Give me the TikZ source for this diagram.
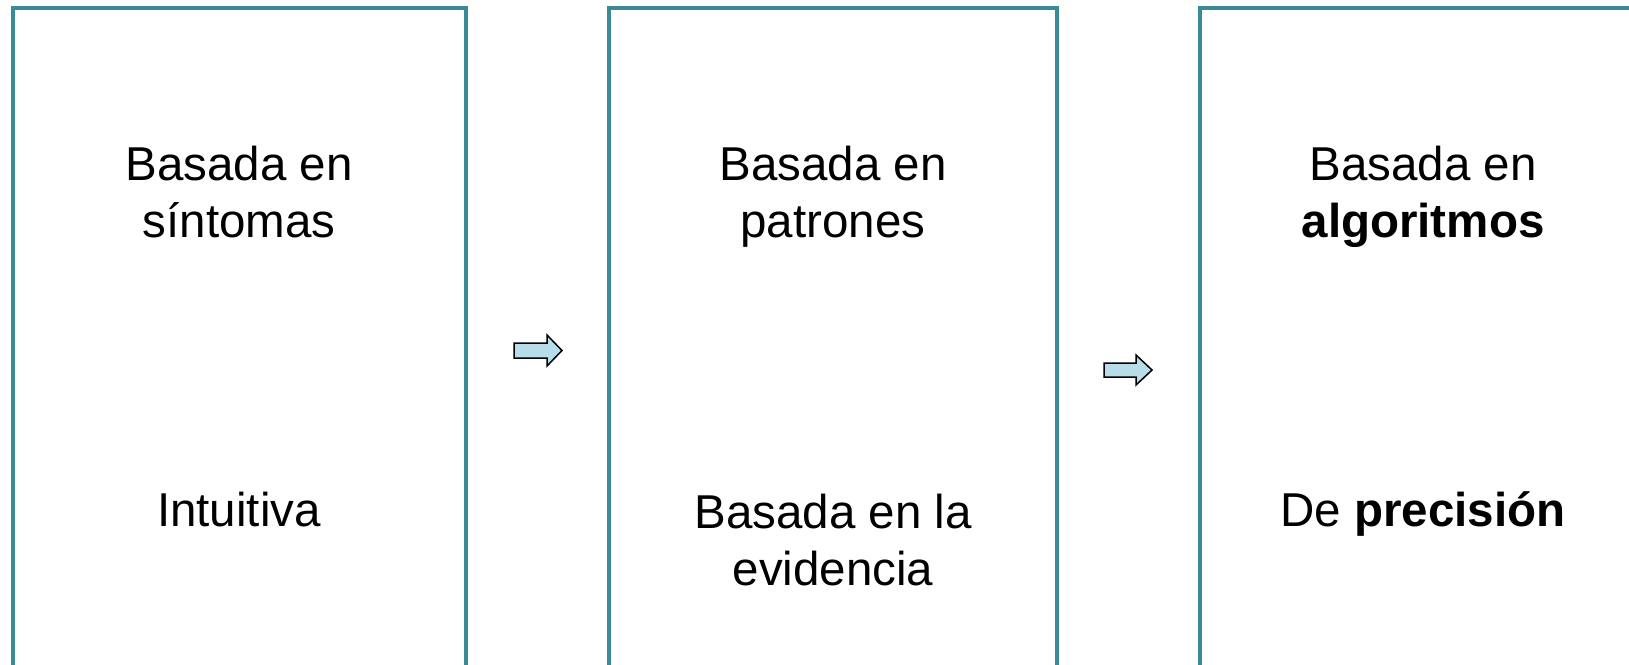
\documentclass[tikz,border=0pt]{standalone}
\usepackage{fontspec}
\setmainfont{Liberation Sans}
\definecolor{boxteal}{RGB}{58,139,148}
\definecolor{arrowfill}{RGB}{183,222,232}
\begin{document}
\begin{tikzpicture}[x=1pt,y=-1pt,
  stage/.style={draw=boxteal, line width=4pt, fill=none, anchor=north west, inner sep=0pt, outer sep=0pt},
  lbl/.style={font=\fontsize{47.5}{57}\selectfont, align=center, anchor=base, inner sep=0pt},
  blockarrow/.style={draw=black, line width=1.5pt, fill=arrowfill, line join=miter}]
\useasboundingbox (0,0) rectangle (1629,664);
\clip (0,0) rectangle (1629,664);
\node[stage, minimum width=453.5pt, minimum height=700pt] (b1) at (12.5,7.5) {};
\node[stage, minimum width=448pt, minimum height=700pt] (b2) at (609,7.5) {};
\node[stage, minimum width=500pt, minimum height=700pt] (b3) at (1200,7.5) {};
\node[lbl] (t1a) at (239,237) {Basada en\\síntomas};
\node[lbl] (t1b) at (239,526) {Intuitiva};
\node[lbl] (t2a) at (833,237) {Basada en\\patrones};
\node[lbl] (t2b) at (833,585) {Basada en la\\evidencia};
\node[lbl] (t3a) at (1423,237) {Basada en\\\textbf{algoritmos}};
\node[lbl] (t3b) at (1423,526) {De \textbf{precisión}};
\draw[blockarrow] (514,343) -- (547,343) -- (547,335) -- (562,350.5) -- (547,366) -- (547,358) -- (514,358) -- cycle;
\draw[blockarrow] (1104,363) -- (1136,363) -- (1136,355) -- (1152,370) -- (1136,385) -- (1136,377) -- (1104,377) -- cycle;
\end{tikzpicture}
\end{document}
